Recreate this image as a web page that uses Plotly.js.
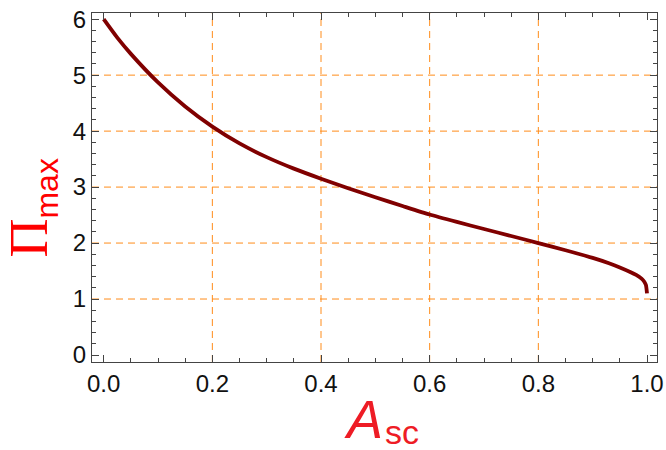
<!DOCTYPE html>
<html>
<head>
<meta charset="utf-8">
<script src="https://cdn.plot.ly/plotly-3.0.1.min.js"></script>
<style>html,body{margin:0;padding:0;background:#fff;}#chart{width:666px;height:450px;}</style>
</head>
<body>
<div id="chart"></div>
<script>
// Data
const aSc = [0, 0.025, 0.05, 0.1, 0.15, 0.2, 0.25, 0.3, 0.35, 0.4, 0.45, 0.5, 0.55, 0.6, 0.65, 0.7, 0.75, 0.8, 0.85, 0.9, 0.93, 0.95, 0.97, 0.98, 0.99, 0.995, 0.998, 1.0];
const piMax = [6.0, 5.67, 5.38, 4.87, 4.44, 4.08, 3.78, 3.535, 3.33, 3.15, 2.98, 2.818, 2.662, 2.51, 2.378, 2.251, 2.126, 2.0, 1.872, 1.735, 1.64, 1.565, 1.48, 1.43, 1.365, 1.31, 1.25, 1.1];
const xTicks = [0, 0.2, 0.4, 0.6, 0.8, 1.0];
const xTickText = ['0.0', '0.2', '0.4', '0.6', '0.8', '1.0'];
const yTicks = [0, 1, 2, 3, 4, 5, 6];
const xGrid = [0.2, 0.4, 0.6, 0.8];
const yGrid = [1, 2, 3, 4, 5];

const gridColor = '#ff8c1a';
const axisColor = '#444';
const tickFont = {family: 'Liberation Sans, Arial, sans-serif', size: 24, color: '#111'};
const gridLine = {color: gridColor, width: 1, dash: '7px,5px'};

const shapes = [];
xGrid.forEach(v => shapes.push({type: 'line', xref: 'x', yref: 'paper', x0: v, x1: v, y0: 0, y1: 1, line: gridLine, layer: 'below'}));
yGrid.forEach(v => shapes.push({type: 'line', xref: 'paper', yref: 'y', x0: 0, x1: 1, y0: v, y1: v, line: gridLine, layer: 'below'}));

const trace = {
  x: aSc, y: piMax, type: 'scatter', mode: 'lines',
  line: {color: '#800000', width: 3.8, shape: 'spline', smoothing: 0.6},
  hoverinfo: 'skip'
};

const axisCommon = {
  ticks: 'inside', ticklen: 7, tickwidth: 1, tickcolor: axisColor,
  showline: true, linecolor: axisColor, linewidth: 1.2, mirror: 'allticks',
  showgrid: false, zeroline: false,
  tickfont: tickFont, fixedrange: true
};

const layout = {
  width: 666, height: 450,
  margin: {l: 92, r: 9, t: 13, b: 88},
  paper_bgcolor: '#fff', plot_bgcolor: '#fff',
  showlegend: false,
  shapes: shapes,
  xaxis: Object.assign({}, axisCommon, {
    range: [-0.0215, 1.0184],
    tickvals: xTicks, ticktext: xTickText,
    minor: {dtick: 0.05, tick0: 0, ticks: 'inside', ticklen: 4, tickcolor: axisColor, showgrid: false}
  }),
  yaxis: Object.assign({}, axisCommon, {
    range: [-0.125, 6.11],
    tickvals: yTicks,
    minor: {dtick: 0.2, tick0: 0, ticks: 'inside', ticklen: 4, tickcolor: axisColor, showgrid: false}
  }),
  annotations: [
    {
      xref: 'paper', yref: 'paper', x: 0.443, y: -0.164, xanchor: 'left', yanchor: 'middle',
      showarrow: false, text: '<i>A</i>',
      font: {family: 'Liberation Sans, Arial, sans-serif', size: 54, color: '#ee1c25'}
    },
    {
      xref: 'paper', yref: 'paper', x: 0.515, y: -0.2, xanchor: 'left', yanchor: 'middle',
      showarrow: false, text: 'sc',
      font: {family: 'Liberation Sans, Arial, sans-serif', size: 34, color: '#ee1c25'}
    },
    {
      xref: 'paper', yref: 'paper', x: -0.106, y: 0.44, xanchor: 'center', yanchor: 'middle',
      showarrow: false, textangle: -90,
      text: '<span style="font-family:Liberation Serif, Times New Roman, serif">Π</span><sub><span style="font-size:32px;font-family:Liberation Sans, Arial, sans-serif">max</span></sub>',
      font: {family: 'Liberation Serif, Times New Roman, serif', size: 54, color: '#ff0000'}
    }
  ]
};

Plotly.newPlot('chart', [trace], layout, {staticPlot: true, displayModeBar: false});
</script>
</body>
</html>
